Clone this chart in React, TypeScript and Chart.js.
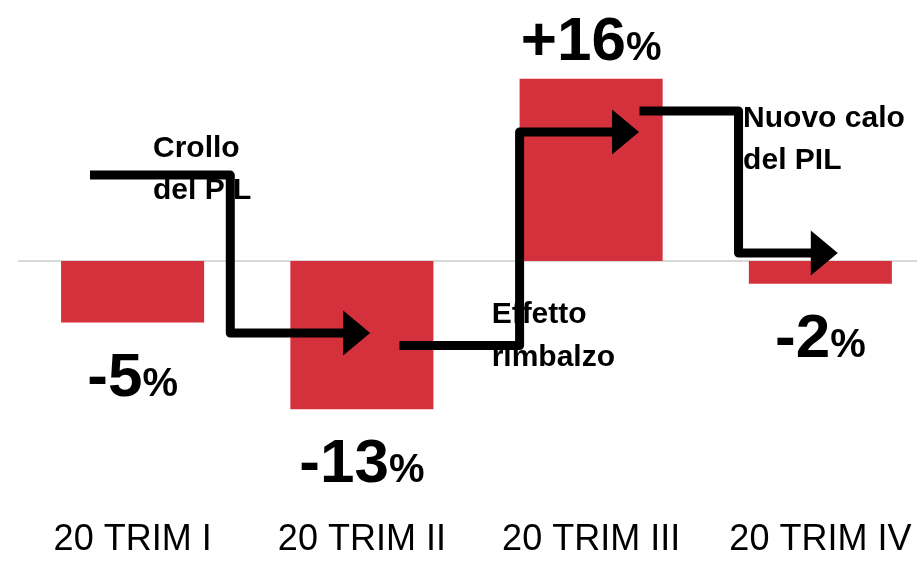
import React, { useEffect, useRef } from "react";
import { Chart, registerables } from "chart.js";

Chart.register(...registerables);

// ---- data ----
const categories = ["20 TRIM I", "20 TRIM II", "20 TRIM III", "20 TRIM IV"];
const gdpChange = [-5.4, -13, 16, -2];
const valueLabels = ["-5", "-13", "+16", "-2"];
const yMin = -21.84;
const yMax = 22.9;

// arrow polylines in (category index, value) coordinates
const arrowPaths: number[][][] = [
  [[-0.186, 7.54], [0.426, 7.54], [0.426, -6.32], [1.036, -6.32]],
  [[1.164, -7.41], [1.688, -7.41], [1.688, 11.32], [2.209, 11.32]],
  [[2.211, 13.16], [2.643, 13.16], [2.643, 0.7], [3.076, 0.7]],
];
// annotation texts anchored at (category index, value) of first baseline
const noteX = [0.089, 1.566, 2.663];
const noteY = [9.15, -5.46, 11.78];
const noteLines = [
  ["Crollo", "del PIL"],
  ["Effetto", "rimbalzo"],
  ["Nuovo calo", "del PIL"],
];

const FONT = "'Liberation Sans', Arial, Helvetica, sans-serif";
const BAR_COLOR = "#D4313D";

const overlayPlugin = {
  id: "overlay",
  beforeDatasetsDraw(chart: any) {
    const { ctx, chartArea, scales } = chart;
    const y0 = scales.y.getPixelForValue(0);
    ctx.save();
    ctx.strokeStyle = "#d9d9d9";
    ctx.lineWidth = 2;
    ctx.beginPath();
    ctx.moveTo(chartArea.left, y0);
    ctx.lineTo(chartArea.right, y0);
    ctx.stroke();
    ctx.restore();
  },
  afterDatasetsDraw(chart: any) {
    const { ctx, scales } = chart;
    const xs = scales.x;
    const ys = scales.y;
    ctx.save();

    // arrows
    const headLen = 27;
    const headHalf = 22.5;
    arrowPaths.forEach((path) => {
      const pts = path.map(([i, v]) => [xs.getPixelForValue(i), ys.getPixelForValue(v)]);
      const [tx, ty] = pts[pts.length - 1];
      const [px, py] = pts[pts.length - 2];
      const dir = Math.sign(tx - px) || 1;
      ctx.strokeStyle = "#000";
      ctx.lineWidth = 9;
      ctx.lineJoin = "round";
      ctx.lineCap = "butt";
      ctx.beginPath();
      ctx.moveTo(pts[0][0], pts[0][1]);
      for (let k = 1; k < pts.length - 1; k++) ctx.lineTo(pts[k][0], pts[k][1]);
      ctx.lineTo(tx - dir * (headLen - 2), ty);
      ctx.stroke();
      ctx.fillStyle = "#000";
      ctx.beginPath();
      ctx.moveTo(tx, ty);
      ctx.lineTo(tx - dir * headLen, ty - headHalf);
      ctx.lineTo(tx - dir * headLen, ty + headHalf);
      ctx.closePath();
      ctx.fill();
      void py;
    });

    // notes
    ctx.fillStyle = "#000";
    ctx.font = `bold 30px ${FONT}`;
    ctx.textAlign = "left";
    ctx.textBaseline = "alphabetic";
    noteLines.forEach((lines, n) => {
      const x = xs.getPixelForValue(noteX[n]);
      const y = ys.getPixelForValue(noteY[n]);
      lines.forEach((t, li) => ctx.fillText(t, x, y + li * 42.3));
    });

    // value labels
    const meta = chart.getDatasetMeta(0);
    meta.data.forEach((el: any, i: number) => {
      const big = valueLabels[i];
      const bigFont = `bold 62px ${FONT}`;
      const smallFont = `bold 40px ${FONT}`;
      ctx.font = bigFont;
      const wb = ctx.measureText(big).width;
      ctx.font = smallFont;
      const ws = ctx.measureText("%").width;
      const startX = el.x - (wb + ws) / 2;
      const baseY = gdpChange[i] < 0 ? el.y + 73 : el.y - 19;
      ctx.textAlign = "left";
      ctx.font = bigFont;
      ctx.fillText(big, startX, baseY);
      ctx.font = smallFont;
      ctx.fillText("%", startX + wb, baseY);
    });

    ctx.restore();
  },
};

export default function App() {
  const ref = useRef<HTMLCanvasElement | null>(null);
  useEffect(() => {
    if (!ref.current) return;
    const chart = new Chart(ref.current, {
      type: "bar",
      data: {
        labels: categories,
        datasets: [
          {
            data: gdpChange,
            backgroundColor: BAR_COLOR,
            borderWidth: 0,
            barPercentage: 0.624,
            categoryPercentage: 1,
          },
        ],
      },
      options: {
        responsive: false,
        animation: false,
        devicePixelRatio: 1,
        layout: { padding: { left: 18, right: 0, top: 0, bottom: 0 } },
        plugins: { legend: { display: false }, tooltip: { enabled: false } },
        scales: {
          x: {
            offset: true,
            grid: { display: false, drawTicks: false },
            border: { display: false },
            ticks: {
              color: "#000",
              padding: 8,
              maxRotation: 0,
              autoSkip: false,
              font: { family: FONT, size: 36 },
            },
            afterFit: (scale: any) => {
              scale.height = 51;
            },
          },
          y: {
            display: false,
            min: yMin,
            max: yMax,
          },
        },
      },
      plugins: [overlayPlugin],
    } as any);
    return () => chart.destroy();
  }, []);

  return (
    <div
      style={{
        position: "fixed",
        left: 0,
        top: 0,
        width: 917,
        height: 561,
        overflow: "hidden",
        background: "#fff",
      }}
    >
      <canvas ref={ref} width={935} height={561} style={{ display: "block", width: 935, height: 561 }} />
    </div>
  );
}
